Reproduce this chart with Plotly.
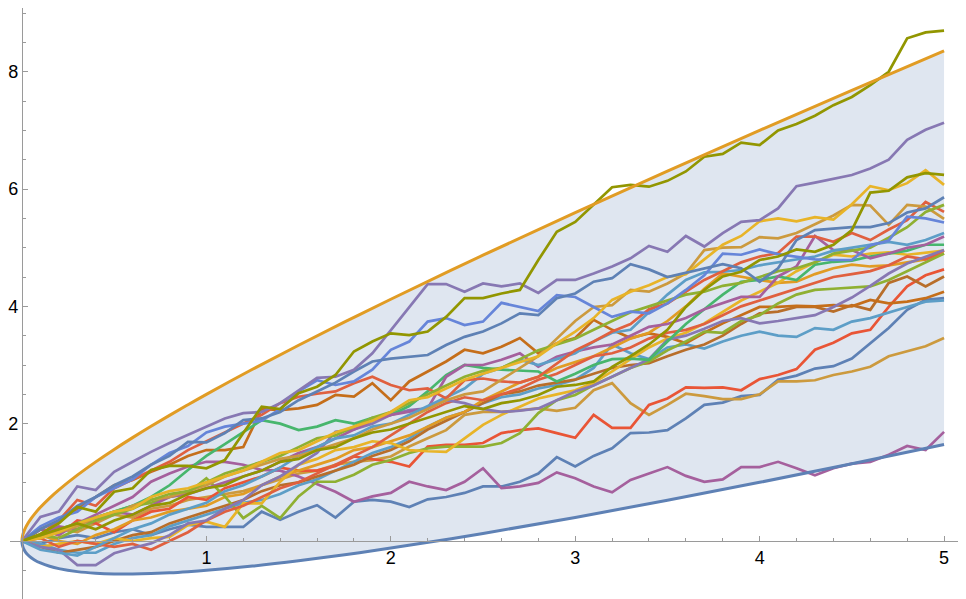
import plotly.graph_objects as go

# time grid of the walks (step 0.1, 0 .. 5)
t_steps = [round(i * 0.1, 1) for i in range(51)]

# envelope curves
env_t = [0, 0.001, 0.005, 0.01, 0.02, 0.03, 0.05, 0.07, 0.1, 0.15, 0.2, 0.3, 0.4, 0.5, 0.6, 0.7,
         0.8, 0.9, 1.0, 1.25, 1.5, 1.75, 2.0, 2.5, 3.0, 3.5, 4.0, 4.5, 5.0]
env_upper = [0, 0.048, 0.111, 0.16, 0.232, 0.29, 0.385, 0.467, 0.574, 0.731, 0.871, 1.122, 1.349,
             1.561, 1.762, 1.955, 2.142, 2.323, 2.5, 2.927, 3.337, 3.734, 4.121, 4.872, 5.598,
             6.306, 7.0, 7.682, 8.354]
env_lower = [0, -0.046, -0.101, -0.14, -0.192, -0.23, -0.285, -0.327, -0.374, -0.431, -0.471,
             -0.522, -0.549, -0.561, -0.562, -0.555, -0.542, -0.523, -0.5, -0.427, -0.337,
             -0.234, -0.121, 0.128, 0.402, 0.694, 1.0, 1.318, 1.646]

# sample paths, values at t = 0.0, 0.1, ..., 5.0
p_olive_top = [0, 0.12, 0.3, 0.58, 0.5, 0.84, 0.9, 1.21, 1.28, 1.28,
               1.24, 1.38, 1.84, 2.29, 2.25, 2.52, 2.63, 2.83, 3.23, 3.40,
               3.54, 3.51, 3.57, 3.82, 4.14, 4.14, 4.22, 4.28, 4.79, 5.27,
               5.44, 5.73, 6.03, 6.07, 6.04, 6.14, 6.30, 6.55, 6.60, 6.79,
               6.75, 7.00, 7.11, 7.25, 7.43, 7.57, 7.77, 8.00, 8.57, 8.67, 8.70]
p_purple_top = [0, 0.41, 0.5, 0.93, 0.87, 1.18, 1.35, 1.52, 1.67, 1.81,
                1.95, 2.09, 2.18, 2.20, 2.35, 2.57, 2.78, 2.80, 2.92, 3.2,
                3.6, 4.0, 4.38, 4.38, 4.25, 4.39, 4.34, 4.39, 4.23, 4.45,
                4.45, 4.56, 4.68, 4.82, 5.03, 4.93, 5.20, 5.02, 5.25, 5.44,
                5.47, 5.67, 6.05, 6.11, 6.17, 6.24, 6.35, 6.50, 6.84, 7.01, 7.13]
p_blue_a = [0, 0.2, 0.35, 0.6, 0.75, 0.95, 1.1, 1.3, 1.45, 1.69,
            1.68, 1.84, 2.06, 2.09, 2.2, 2.4, 2.55, 2.7, 2.89, 3.06,
            3.11, 3.14, 3.17, 3.34, 3.48, 3.57, 3.71, 3.88, 3.85, 4.14,
            4.22, 4.42, 4.48, 4.72, 4.63, 4.50, 4.57, 4.65, 4.72, 4.65,
            4.42, 4.65, 5.13, 5.30, 5.33, 5.35, 5.35, 5.42, 5.60, 5.67, 5.86]
p_blue_b = [0, 0.25, 0.4, 0.5, 0.75, 0.9, 1.05, 1.3, 1.5, 1.62,
            1.85, 1.95, 2.0, 2.05, 2.25, 2.55, 2.74, 2.66, 2.72, 2.92,
            3.26, 3.40, 3.74, 3.80, 3.68, 3.74, 4.06, 3.99, 3.92, 4.19,
            4.16, 3.99, 3.82, 3.91, 3.88, 4.05, 4.28, 4.53, 4.90, 4.88,
            4.97, 4.89, 4.85, 4.80, 4.79, 4.79, 5.04, 5.12, 5.53, 5.50, 5.43]
p_blue_low = [0, -0.05, 0.05, 0.1, 0.05, 0.15, 0.2, 0.1, 0.2, 0.28,
              0.24, 0.24, 0.24, 0.50, 0.36, 0.50, 0.61, 0.40, 0.67, 0.70,
              0.67, 0.58, 0.71, 0.75, 0.82, 0.93, 0.93, 1.01, 1.15, 1.43,
              1.27, 1.45, 1.58, 1.84, 1.85, 1.89, 2.09, 2.32, 2.36, 2.47,
              2.49, 2.75, 2.82, 2.94, 2.98, 3.11, 3.37, 3.63, 3.94, 4.11, 4.14]
p_magenta_low = [0, 0.2, 0.1, 0.3, 0.45, 0.6, 0.75, 1.01, 1.15, 1.27,
                 1.35, 1.35, 1.30, 1.21, 1.20, 1.10, 0.97, 0.84, 0.67, 0.76,
                 0.82, 1.01, 0.93, 0.87, 1.01, 1.24, 0.90, 0.93, 0.99, 1.17,
                 1.07, 0.93, 0.83, 1.04, 1.15, 1.26, 1.11, 1.01, 1.05, 1.26,
                 1.26, 1.35, 1.24, 1.12, 1.24, 1.32, 1.35, 1.47, 1.62, 1.55, 1.86]
p_lavender = [0, -0.1, -0.15, -0.41, -0.41, -0.21, -0.12, -0.04, 0.1, 0.3,
              0.35, 0.55, 0.7, 0.95, 1.1, 1.3, 1.5, 1.86, 1.9, 2.0,
              2.15, 2.23, 2.26, 2.40, 2.35, 2.25, 2.20, 2.22, 2.26, 2.40,
              2.55, 2.65, 2.80, 2.95, 3.10, 3.43, 3.50, 3.62, 3.75, 3.80,
              3.71, 3.75, 3.80, 3.85, 3.99, 4.15, 4.35, 4.56, 4.73, 4.85, 4.96]
p_red_low = [0, 0.2, 0.1, 0.35, 0.3, 0.15, 0.35, 0.5, 0.55, 0.75,
             0.7, 0.9, 1.0, 1.1, 1.25, 1.2, 1.2, 1.28, 1.44, 1.40,
             1.35, 1.27, 1.61, 1.64, 1.64, 1.67, 1.84, 1.89, 1.92, 1.84,
             1.76, 2.15, 1.93, 1.93, 2.32, 2.43, 2.62, 2.61, 2.62, 2.57,
             2.76, 2.83, 2.93, 3.26, 3.38, 3.54, 3.60, 3.99, 4.34, 4.53, 4.63]
p_tan_low = [0, 0.1, 0.2, 0.15, 0.3, 0.45, 0.4, 0.55, 0.6, 0.7,
             0.75, 0.8, 0.85, 0.95, 1.05, 1.15, 1.2, 1.3, 1.35, 1.38,
             1.44, 1.61, 1.75, 1.89, 2.15, 2.20, 2.20, 2.23, 2.26, 2.22,
             2.27, 2.57, 2.69, 2.35, 2.15, 2.32, 2.51, 2.47, 2.42, 2.42,
             2.50, 2.72, 2.72, 2.74, 2.83, 2.89, 2.97, 3.15, 3.23, 3.32, 3.46]
p_olive_b = [0, 0.1, 0.2, 0.3, 0.2, 0.35, 0.45, 0.6, 0.65, 0.8,
             0.9, 0.95, 1.1, 1.2, 1.35, 1.4, 1.55, 1.6, 1.75, 1.85,
             1.9, 2.0, 2.1, 2.2, 2.3, 2.25, 2.35, 2.40, 2.49, 2.63,
             2.66, 2.72, 2.97, 3.15, 3.35, 3.6, 3.99, 4.28, 4.51, 4.59,
             4.79, 4.85, 4.97, 4.93, 5.05, 5.30, 5.94, 5.97, 6.20, 6.27, 6.24]
p_yellow_a = [0, 0.05, 0.15, 0.3, 0.4, 0.5, 0.55, 0.75, 0.85, 0.9,
              1.0, 1.1, 1.2, 1.35, 1.5, 1.55, 1.7, 1.85, 1.95, 2.05,
              2.2, 2.4, 2.45, 2.6, 2.75, 2.85, 2.95, 3.05, 3.15, 3.37,
              3.57, 3.80, 4.11, 4.25, 4.36, 4.5, 4.55, 4.8, 5.05, 5.2,
              5.45, 5.5, 5.45, 5.52, 5.48, 5.74, 6.05, 5.98, 6.10, 6.32, 6.07]
p_tan_high = [0, 0.1, 0.15, 0.25, 0.4, 0.45, 0.6, 0.7, 0.75, 0.85,
              0.95, 1.1, 1.2, 1.3, 1.4, 1.45, 1.55, 1.65, 1.75, 1.9,
              2.0, 2.1, 2.25, 2.4, 2.5, 2.55, 2.75, 2.95, 3.15, 3.45,
              3.75, 3.99, 4.02, 4.28, 4.25, 4.39, 4.56, 4.96, 5.0, 5.01,
              5.18, 5.16, 5.25, 5.4, 5.55, 5.73, 5.72, 5.39, 5.73, 5.70, 5.49]
p_red_high = [0, 0.1, 0.35, 0.7, 0.6, 0.9, 1.05, 1.2, 1.35, 1.55,
              1.7, 1.85, 2.0, 2.15, 2.35, 2.46, 2.51, 2.55, 2.69, 2.80,
              2.66, 2.57, 2.60, 2.43, 2.74, 2.77, 2.72, 2.70, 2.80, 3.03,
              3.25, 3.4, 3.57, 3.7, 3.95, 4.05, 4.25, 4.45, 4.6, 4.75,
              4.85, 4.91, 5.19, 5.19, 5.10, 5.25, 5.13, 5.31, 5.47, 5.78, 5.61]
p_green_a = [0, 0.05, 0.15, 0.3, 0.4, 0.5, 0.6, 0.65, 0.75, 0.82,
             1.07, 0.76, 0.39, 0.6, 0.39, 0.76, 1.01, 1.01, 1.13, 1.30,
             1.38, 1.50, 1.58, 1.61, 1.61, 1.61, 1.67, 1.84, 2.18, 2.40,
             2.49, 2.66, 2.80, 2.95, 3.06, 3.25, 3.4, 3.57, 3.55, 3.75,
             3.85, 4.05, 4.2, 4.28, 4.3, 4.32, 4.34, 4.45, 4.6, 4.75, 4.9]
p_lightblue_a = [0, -0.15, -0.2, -0.25, -0.1, 0.05, 0.2, 0.3, 0.45, 0.55,
                 0.65, 0.85, 0.95, 1.1, 1.25, 1.45, 1.6, 1.75, 1.8, 1.95,
                 2.0, 2.15, 2.3, 2.45, 2.6, 2.85, 2.95, 3.09, 3.0, 3.1,
                 3.2, 3.4, 3.55, 3.6, 3.9, 4.2, 4.45, 4.58, 4.59, 4.62,
                 4.7, 4.75, 4.8, 4.85, 4.95, 5.0, 5.05, 5.1, 5.05, 5.13, 5.25]
p_magenta_b = [0, 0.1, 0.25, 0.2, 0.35, 0.5, 0.45, 0.6, 0.75, 0.8,
               0.9, 1.0, 1.1, 1.2, 1.35, 1.5, 1.6, 1.75, 1.9, 2.05,
               2.15, 2.2, 2.26, 2.80, 3.0, 3.0, 3.09, 3.2, 2.97, 3.14,
               3.23, 3.3, 3.35, 3.5, 3.65, 3.7, 3.8, 3.95, 4.05, 4.16,
               4.16, 4.51, 4.68, 5.2, 4.96, 4.96, 4.82, 4.9, 5.0, 5.05, 5.19]
p_teal = [0, 0.1, 0.2, 0.3, 0.4, 0.5, 0.6, 0.75, 0.95, 1.21,
          1.45, 1.65, 1.86, 2.06, 2.0, 1.89, 1.95, 2.06, 2.0, 2.1,
          2.15, 2.3, 2.55, 2.83, 3.0, 2.95, 2.92, 2.9, 2.89, 2.72,
          2.85, 3.0, 3.1, 3.11, 3.09, 3.4, 3.7, 3.95, 4.2, 4.42,
          4.45, 4.51, 4.45, 4.71, 4.76, 4.78, 4.85, 4.9, 4.95, 5.05, 5.05]
p_orange = [0, 0.1, 0.0, -0.05, 0.1, 0.2, 0.35, 0.4, 0.5, 0.55,
            0.6, 0.75, 0.8, 0.95, 1.1, 1.2, 1.3, 1.4, 1.55, 1.6,
            1.7, 1.8, 1.95, 2.1, 2.2, 2.4, 2.55, 2.7, 2.8, 2.95,
            3.05, 3.15, 3.3, 3.45, 3.55, 3.75, 4.0, 4.3, 4.56, 4.5,
            4.45, 4.4, 4.42, 4.55, 4.65, 4.71, 4.68, 4.7, 4.75, 4.8, 4.90]
p_brown_a = [0, 0.2, 0.35, 0.55, 0.75, 0.95, 1.04, 1.18, 1.3, 1.45,
             1.55, 1.55, 1.6, 2.25, 2.23, 2.26, 2.32, 2.49, 2.46, 2.69,
             2.40, 2.72, 2.89, 3.06, 3.26, 3.20, 3.31, 3.46, 3.20, 3.37,
             3.46, 3.77, 3.60, 3.46, 3.54, 3.48, 3.37, 3.55, 3.71, 3.85,
             3.99, 3.99, 4.01, 4.0, 4.02, 4.0, 4.11, 4.05, 4.08, 4.14, 4.25]
p_brown_b = [0, -0.1, -0.2, -0.15, -0.1, 0.0, 0.1, 0.15, 0.3, 0.4,
             0.5, 0.6, 0.7, 0.85, 0.95, 1.0, 1.1, 1.2, 1.3, 1.45,
             1.55, 1.7, 1.9, 2.05, 2.2, 2.35, 2.5, 2.55, 2.65, 2.7,
             2.75, 2.85, 2.95, 3.0, 3.03, 3.15, 3.26, 3.35, 3.5, 3.7,
             3.88, 3.91, 3.99, 3.99, 3.91, 4.02, 3.94, 4.40, 4.51, 4.34, 4.51]
p_lightblue_b = [0, -0.05, -0.15, -0.2, -0.2, -0.05, 0.05, 0.1, 0.25, 0.35,
                 0.45, 0.55, 0.65, 0.7, 0.8, 0.95, 1.05, 1.2, 1.35, 1.5,
                 1.6, 1.75, 1.95, 2.1, 2.2, 2.35, 2.45, 2.5, 2.6, 2.66,
                 2.75, 2.95, 3.35, 3.20, 3.1, 3.3, 3.35, 3.28, 3.4, 3.5,
                 3.57, 3.5, 3.48, 3.63, 3.60, 3.74, 3.8, 3.9, 3.99, 4.08, 4.10]
p_green_b = [0, 0.1, 0.05, 0.2, 0.35, 0.45, 0.55, 0.7, 0.8, 0.85,
             1.0, 1.15, 1.25, 1.35, 1.45, 1.6, 1.75, 1.8, 1.95, 2.1,
             2.2, 2.35, 2.5, 2.65, 2.8, 2.9, 2.95, 3.1, 3.25, 3.35,
             3.45, 3.6, 3.75, 3.9, 4.0, 4.1, 4.2, 4.25, 4.35, 4.4,
             4.5, 4.6, 4.65, 4.75, 4.9, 4.95, 5.0, 5.17, 5.35, 5.61, 5.73]
p_yellow_b = [0, -0.1, -0.05, 0.0, -0.05, 0.05, 0.0, 0.05, 0.07, 0.27,
              0.33, 0.24, 0.64, 0.64, 1.01, 1.3, 1.4, 1.55, 1.6, 1.7,
              1.67, 1.55, 1.53, 1.52, 1.75, 1.98, 2.15, 2.29, 2.43, 2.5,
              2.57, 2.7, 2.89, 3.1, 3.3, 3.45, 3.55, 3.71, 3.9, 4.1,
              4.25, 4.4, 4.6, 4.75, 4.88, 4.85, 4.9, 4.92, 4.88, 4.92, 4.95]
p_red_mid = [0, 0.05, -0.1, 0.0, -0.05, -0.1, -0.05, -0.15, 0.0, 0.15,
             0.35, 0.5, 0.6, 0.75, 0.9, 1.0, 1.15, 1.3, 1.45, 1.6,
             1.8, 2.0, 2.2, 2.35, 2.45, 2.4, 2.5, 2.6, 2.75, 2.85,
             3.0, 3.15, 3.2, 3.3, 3.45, 3.55, 3.6, 3.7, 3.85, 4.0,
             4.1, 4.2, 4.3, 4.4, 4.5, 4.55, 4.6, 4.7, 4.85, 4.8, 4.95]

paths = [
    (p_blue_low, "#5E81B5"), (p_tan_low, "#CC9A3E"), (p_red_low, "#E95536"),
    (p_magenta_low, "#A5609D"), (p_lightblue_b, "#5D9EC7"), (p_brown_b, "#B86E2A"),
    (p_brown_a, "#C56E1A"), (p_orange, "#E19C24"), (p_green_a, "#8FB032"),
    (p_yellow_b, "#E8B428"), (p_red_mid, "#E0603F"), (p_lavender, "#8778B3"),
    (p_teal, "#47B66D"), (p_magenta_b, "#A5609D"), (p_lightblue_a, "#5D9EC7"),
    (p_red_high, "#E0603F"), (p_tan_high, "#CC9A3E"), (p_green_b, "#8FB032"),
    (p_blue_b, "#6685D9"), (p_yellow_a, "#E8B428"), (p_blue_a, "#5E81B5"),
    (p_olive_b, "#929600"), (p_purple_top, "#8778B3"), (p_olive_top, "#929600"),
]

fig = go.Figure()

# shaded band
fig.add_trace(go.Scatter(x=env_t, y=env_lower, mode="lines", line=dict(width=0, shape="spline"),
                         hoverinfo="skip", showlegend=False))
fig.add_trace(go.Scatter(x=env_t, y=env_upper, mode="lines", line=dict(width=0, shape="spline"),
                         fill="tonexty", fillcolor="#DFE6F0", hoverinfo="skip", showlegend=False))

for vals, col in paths:
    fig.add_trace(go.Scatter(x=t_steps, y=vals, mode="lines",
                             line=dict(color=col, width=2.7), showlegend=False))

# envelope lines
fig.add_trace(go.Scatter(x=env_t, y=env_lower, mode="lines",
                         line=dict(color="#5E81B5", width=3, shape="spline"), showlegend=False))
fig.add_trace(go.Scatter(x=env_t, y=env_upper, mode="lines",
                         line=dict(color="#E19C24", width=3, shape="spline"), showlegend=False))

axis_col = "#9A9A9A"
# page body has an 8px margin, so the figure is sized to fit the window
W, H = 958, 591
X0_PX, Y0_PX = 12, 533          # pixel position of the origin inside the figure
SX, SY = 184.8, 58.66           # pixels per data unit
fig.update_layout(
    width=W, height=H,
    margin=dict(l=0, r=0, t=0, b=0),
    paper_bgcolor="white", plot_bgcolor="white",
    font=dict(family="Liberation Sans, Arial, sans-serif", size=18, color="black"),
    xaxis=dict(
        range=[-X0_PX / SX, (W - X0_PX) / SX], anchor="free", position=(H - Y0_PX) / H,
        showline=True, linecolor=axis_col, linewidth=1.2,
        showgrid=False, zeroline=False,
        tickmode="array", tickvals=[1, 2, 3, 4, 5], ticktext=["1", "2", "3", "4", "5"],
        ticks="inside", ticklen=5, tickcolor=axis_col, tickwidth=1,
        minor=dict(tickmode="linear", tick0=0, dtick=0.2, ticks="inside", ticklen=3,
                   tickcolor=axis_col, tickwidth=1, showgrid=False),
    ),
    yaxis=dict(
        range=[(Y0_PX - H) / SY, Y0_PX / SY], anchor="free", position=X0_PX / W,
        showline=True, linecolor=axis_col, linewidth=1.2,
        showgrid=False, zeroline=False,
        tickmode="array", tickvals=[2, 4, 6, 8], ticktext=["2", "4", "6", "8"],
        ticks="inside", ticklen=5, tickcolor=axis_col, tickwidth=1,
        minor=dict(tickmode="linear", tick0=0, dtick=0.5, ticks="inside", ticklen=3,
                   tickcolor=axis_col, tickwidth=1, showgrid=False),
    ),
)

fig.write_html("out.html")
